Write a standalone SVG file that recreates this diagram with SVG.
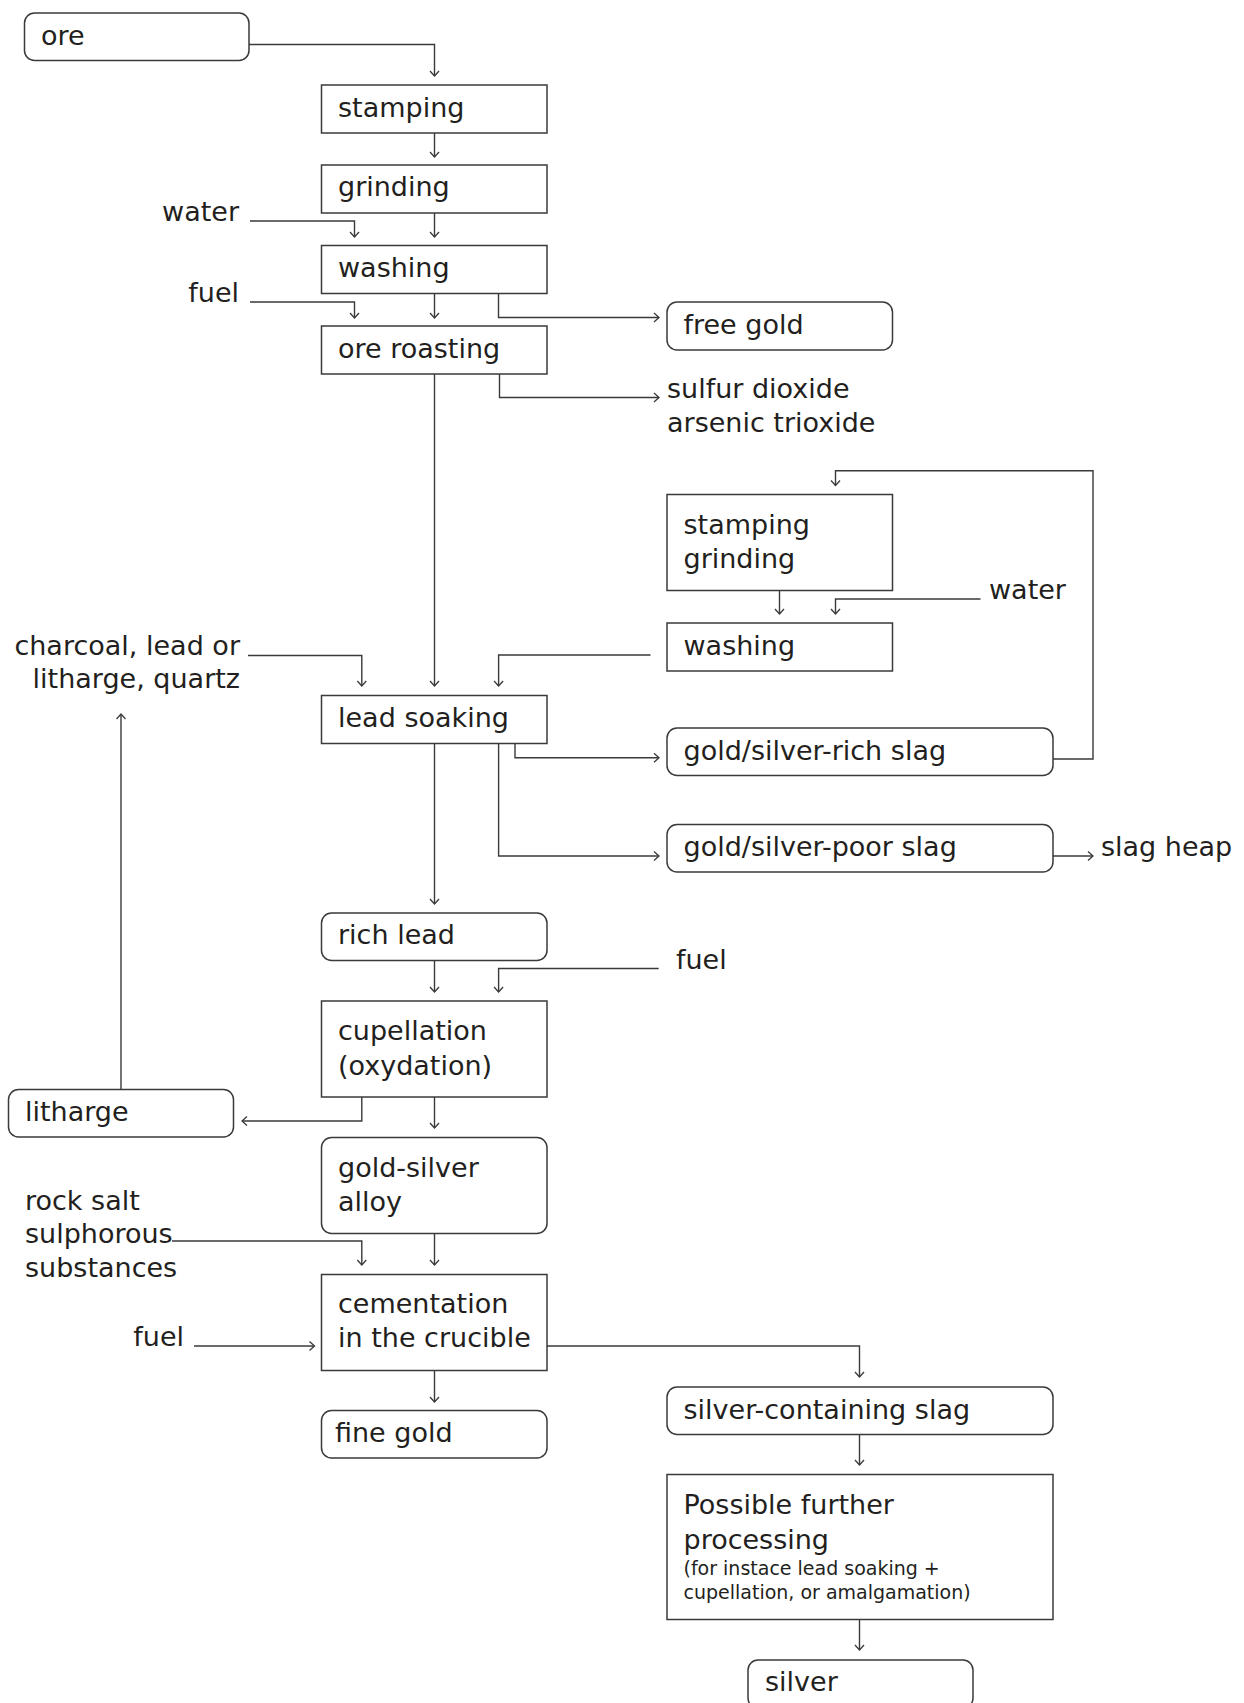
<svg xmlns="http://www.w3.org/2000/svg" width="1244" height="1703" viewBox="0 0 1244 1703">
<style>
.bg{fill:#fff}
.box{fill:#fff;stroke:#3a3a3a;stroke-width:1.5}
.t{font-family:"DejaVu Sans","Liberation Sans",sans-serif;font-size:27px;fill:#231f20}
.s{font-size:19px}
.e{text-anchor:end}
.c{fill:none;stroke:#3a3a3a;stroke-width:1.4;marker-end:url(#ah)}
.n{fill:none;stroke:#3a3a3a;stroke-width:1.4}
</style>
<defs>
<marker id="ah" markerUnits="userSpaceOnUse" markerWidth="12" markerHeight="12" viewBox="-6 -6 12 12" refX="0" refY="0" orient="auto">
<path d="M-5,-4.5 L0,0 L-5,4.5" fill="none" stroke="#3a3a3a" stroke-width="1.3"/>
</marker>
</defs>
<rect class="bg" x="0" y="0" width="1244" height="1703"/>

<g id="connectors">
<path class="c" d="M249,44.5 H434.5 V76"/>
<path class="c" d="M434.5,133 V157"/>
<path class="c" d="M434.5,213 V237"/>
<path class="c" d="M250,221 H354.5 V237"/>
<path class="c" d="M434.5,293.5 V318"/>
<path class="c" d="M250,302 H354.5 V318"/>
<path class="c" d="M498.5,293.5 V317.5 H659"/>
<path class="c" d="M499.5,374 V397.5 H659"/>
<path class="c" d="M434.5,374 V686"/>
<path class="c" d="M248,655.5 H361.8 V686"/>
<path class="c" d="M650.5,655 H498.6 V686"/>
<path class="c" d="M779.5,590.5 V614"/>
<path class="c" d="M980.5,599 H835.5 V614"/>
<path class="c" d="M1053,759 H1093 V470.7 H835.5 V485.5"/>
<path class="c" d="M515,743.5 V757.7 H659"/>
<path class="c" d="M498.6,743.5 V856 H659"/>
<path class="c" d="M1053,856 H1093"/>
<path class="c" d="M434.5,743.5 V904"/>
<path class="c" d="M434.5,961 V992"/>
<path class="c" d="M658.7,968.5 H498.6 V992"/>
<path class="c" d="M361.8,1097 V1121 H242"/>
<path class="c" d="M121,1089.5 V714"/>
<path class="c" d="M434.5,1097 V1128"/>
<path class="c" d="M172,1241 H361.8 V1265"/>
<path class="c" d="M434.5,1233.5 V1265"/>
<path class="c" d="M194,1346 H314.5"/>
<path class="c" d="M547,1346 H859.5 V1377"/>
<path class="c" d="M434.5,1370.5 V1402"/>
<path class="c" d="M859.5,1435 V1465"/>
<path class="c" d="M859.5,1619.5 V1650"/>
</g>

<g id="n-ore"><rect class="box" x="24.5" y="13" width="224.5" height="47.5" rx="10"/><text class="t" x="41" y="45">ore</text></g>
<g id="n-stamping"><rect class="box" x="321.5" y="85" width="225.5" height="48"/><text class="t" x="338" y="116.5">stamping</text></g>
<g id="n-grinding"><rect class="box" x="321.5" y="165" width="225.5" height="48"/><text class="t" x="338" y="196">grinding</text></g>
<g id="n-washing"><rect class="box" x="321.5" y="245.5" width="225.5" height="48"/><text class="t" x="338" y="277">washing</text></g>
<g id="n-roasting"><rect class="box" x="321.5" y="326" width="225.5" height="48"/><text class="t" x="338" y="357.5">ore roasting</text></g>
<g id="n-freegold"><rect class="box" x="667" y="302" width="225.5" height="48" rx="10"/><text class="t" x="683.5" y="333.5">free gold</text></g>
<g id="l-gases"><text class="t" x="667" y="397.5">sulfur dioxide</text><text class="t" x="667" y="431.5">arsenic trioxide</text></g>
<g id="l-water1"><text class="t e" x="239" y="221">water</text></g>
<g id="l-fuel1"><text class="t e" x="239" y="301.5">fuel</text></g>
<g id="n-stampgrind"><rect class="box" x="667" y="494.5" width="225.5" height="96"/><text class="t" x="683.5" y="534.3">stamping</text><text class="t" x="683.5" y="568.3">grinding</text></g>
<g id="l-water2"><text class="t" x="989" y="598.5">water</text></g>
<g id="n-washing2"><rect class="box" x="667" y="623" width="225.5" height="48"/><text class="t" x="683.5" y="654.5">washing</text></g>
<g id="l-charcoal"><text class="t e" x="240" y="654.5">charcoal, lead or</text><text class="t e" x="240" y="688">litharge, quartz</text></g>
<g id="n-leadsoaking"><rect class="box" x="321.5" y="695.5" width="225.5" height="48"/><text class="t" x="338" y="727">lead soaking</text></g>
<g id="n-richslag"><rect class="box" x="667" y="728" width="386" height="47.5" rx="10"/><text class="t" x="683.5" y="759.5">gold/silver-rich slag</text></g>
<g id="n-poorslag"><rect class="box" x="667" y="824.5" width="386" height="47.5" rx="10"/><text class="t" x="683.5" y="856">gold/silver-poor slag</text></g>
<g id="l-slagheap"><text class="t" x="1101" y="855.5">slag heap</text></g>
<g id="n-richlead"><rect class="box" x="321.5" y="913" width="225.5" height="47.5" rx="10"/><text class="t" x="338" y="944">rich lead</text></g>
<g id="l-fuel2"><text class="t" x="676" y="968.5">fuel</text></g>
<g id="n-cupellation"><rect class="box" x="321.5" y="1001" width="225.5" height="96"/><text class="t" x="338" y="1040">cupellation</text><text class="t" x="338" y="1075">(oxydation)</text></g>
<g id="n-litharge"><rect class="box" x="8.5" y="1089.5" width="225" height="47.5" rx="10"/><text class="t" x="25" y="1120.5">litharge</text></g>
<g id="n-alloy"><rect class="box" x="321.5" y="1137.5" width="225.5" height="96" rx="10"/><text class="t" x="338" y="1176.5">gold-silver</text><text class="t" x="338" y="1211">alloy</text></g>
<g id="l-rocksalt"><text class="t" x="25" y="1209.5">rock salt</text><text class="t" x="25" y="1243">sulphorous</text><text class="t" x="25" y="1277">substances</text></g>
<g id="l-fuel3"><text class="t e" x="184" y="1345.5">fuel</text></g>
<g id="n-cementation"><rect class="box" x="321.5" y="1274.5" width="225.5" height="96"/><text class="t" x="338" y="1312.5">cementation</text><text class="t" x="338" y="1346.5">in the crucible</text></g>
<g id="n-finegold"><rect class="box" x="321.5" y="1410.5" width="225.5" height="47.5" rx="10"/><text class="t" x="335" y="1442">fine gold</text></g>
<g id="n-silverslag"><rect class="box" x="667" y="1387" width="386" height="47.5" rx="10"/><text class="t" x="683.5" y="1418.5">silver-containing slag</text></g>
<g id="n-further"><rect class="box" x="667" y="1474.5" width="386" height="145"/><text class="t" x="683.5" y="1513.5">Possible further</text><text class="t" x="683.5" y="1548.5">processing</text><text class="t s" x="683.5" y="1575">(for instace lead soaking +</text><text class="t s" x="683.5" y="1599">cupellation, or amalgamation)</text></g>
<g id="n-silver"><rect class="box" x="748" y="1660" width="225" height="48" rx="10"/><text class="t" x="765" y="1691">silver</text></g>
</svg>
